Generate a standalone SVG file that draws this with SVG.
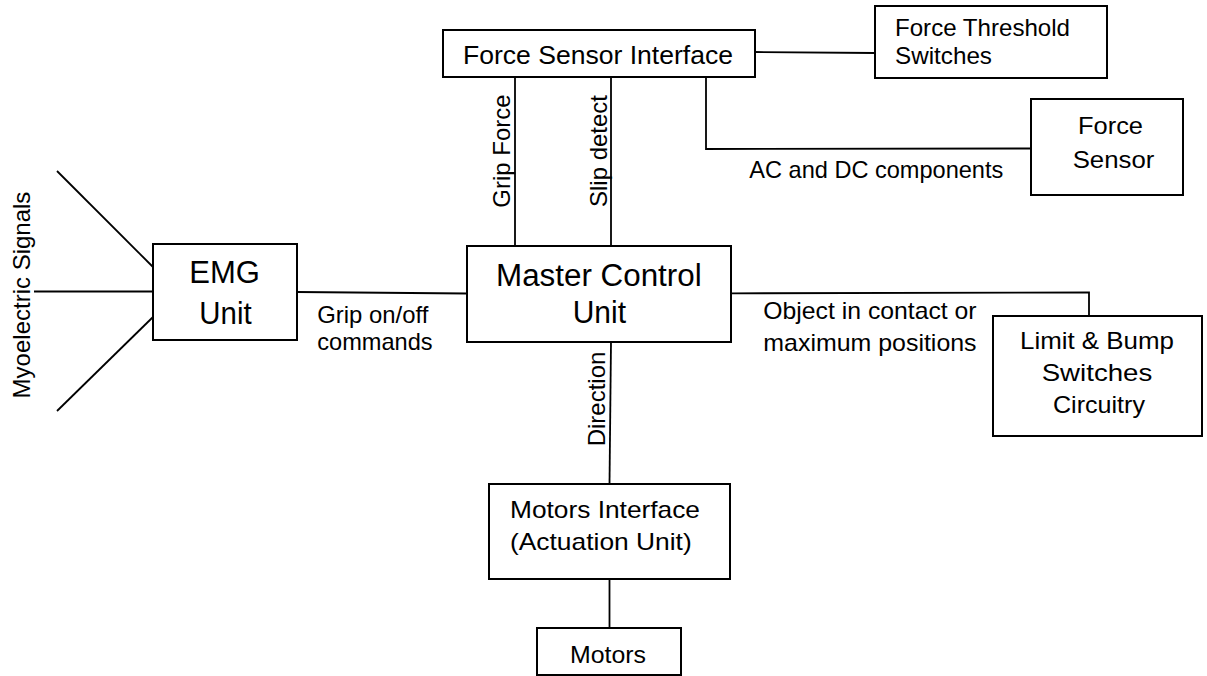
<svg xmlns="http://www.w3.org/2000/svg" width="1207" height="676" viewBox="0 0 1207 676">
  <style>
    .box { fill: #ffffff; stroke: #000000; stroke-width: 2; }
    .wire { fill: none; stroke: #000000; stroke-width: 1.8; }
    text { font-family: "Liberation Sans", Arial, sans-serif; fill: #000000; }
    .sm { font-size: 24px; }
    .md { font-size: 26.5px; }
    .lg { font-size: 31px; }
    .rot { font-size: 24px; text-anchor: middle; }
  </style>
  <rect width="1207" height="676" fill="#ffffff"/>

  <!-- connectors -->
  <g id="connectors">
    <line class="wire" x1="755" y1="52" x2="875" y2="53"/>
    <polyline class="wire" points="706,77 706,149 1031,148.5"/>
    <line class="wire" x1="515" y1="77" x2="515" y2="246"/>
    <line class="wire" x1="611" y1="77" x2="611" y2="246"/>
    <line class="wire" x1="57" y1="171" x2="153" y2="267"/>
    <line class="wire" x1="34" y1="291.5" x2="153" y2="291.5"/>
    <line class="wire" x1="57" y1="411" x2="153" y2="317"/>
    <line class="wire" x1="297" y1="292" x2="467" y2="293.5"/>
    <polyline class="wire" points="731,293.3 1089,292.5 1089,316"/>
    <line class="wire" x1="611" y1="342" x2="609.5" y2="484"/>
    <line class="wire" x1="609.5" y1="579" x2="609.5" y2="628"/>

    <!-- connector labels -->
    <text class="sm" x="749.3" y="178" textLength="254" lengthAdjust="spacingAndGlyphs">AC and DC components</text>
    <text class="sm" x="317.3" y="323" textLength="111" lengthAdjust="spacingAndGlyphs">Grip on/off</text>
    <text class="sm" x="317.3" y="349.5" textLength="115.3" lengthAdjust="spacingAndGlyphs">commands</text>
    <text class="sm" x="763.3" y="319" textLength="213.3" lengthAdjust="spacingAndGlyphs">Object in contact or</text>
    <text class="sm" x="763.3" y="351" textLength="213.3" lengthAdjust="spacingAndGlyphs">maximum positions</text>
    <text class="rot" transform="translate(30,295) rotate(-90)">Myoelectric Signals</text>
    <text class="rot" transform="translate(509.5,151) rotate(-90)">Grip Force</text>
    <text class="rot" transform="translate(606.5,151) rotate(-90)">Slip detect</text>
    <text class="rot" transform="translate(605,399) rotate(-90)">Direction</text>
  </g>

  <!-- nodes -->
  <g id="force-sensor-interface">
    <rect class="box" x="443" y="30" width="312" height="47"/>
    <text class="md" x="463" y="63.5" textLength="270" lengthAdjust="spacingAndGlyphs">Force Sensor Interface</text>
  </g>
  <g id="force-threshold-switches">
    <rect class="box" x="875" y="6" width="232" height="72"/>
    <text class="sm" x="895" y="36" textLength="175" lengthAdjust="spacingAndGlyphs">Force Threshold</text>
    <text class="sm" x="895" y="63.5" textLength="97" lengthAdjust="spacingAndGlyphs">Switches</text>
  </g>
  <g id="force-sensor">
    <rect class="box" x="1031" y="99" width="152" height="96"/>
    <text class="sm" x="1078" y="134" textLength="65" lengthAdjust="spacingAndGlyphs">Force</text>
    <text class="sm" x="1072.7" y="168" textLength="81.6" lengthAdjust="spacingAndGlyphs">Sensor</text>
  </g>
  <g id="emg-unit">
    <rect class="box" x="153" y="244" width="144" height="96"/>
    <text class="lg" x="189.3" y="283" textLength="70.7" lengthAdjust="spacingAndGlyphs">EMG</text>
    <text class="lg" x="199.3" y="323.5" textLength="52.3" lengthAdjust="spacingAndGlyphs">Unit</text>
  </g>
  <g id="master-control-unit">
    <rect class="box" x="467" y="246" width="264" height="96"/>
    <text class="lg" x="496" y="285.5" textLength="205.7" lengthAdjust="spacingAndGlyphs">Master Control</text>
    <text class="lg" x="572.7" y="323" textLength="53.3" lengthAdjust="spacingAndGlyphs">Unit</text>
  </g>
  <g id="limit-bump-switches">
    <rect class="box" x="993" y="316" width="209" height="120"/>
    <text class="sm" x="1020" y="349" textLength="154" lengthAdjust="spacingAndGlyphs">Limit &amp; Bump</text>
    <text class="sm" x="1041.7" y="381" textLength="110.6" lengthAdjust="spacingAndGlyphs">Switches</text>
    <text class="sm" x="1053" y="412.5" textLength="92" lengthAdjust="spacingAndGlyphs">Circuitry</text>
  </g>
  <g id="motors-interface">
    <rect class="box" x="489" y="484" width="241" height="95"/>
    <text class="sm" x="510" y="517.5" textLength="190" lengthAdjust="spacingAndGlyphs">Motors Interface</text>
    <text class="sm" x="510" y="550" textLength="181.7" lengthAdjust="spacingAndGlyphs">(Actuation Unit)</text>
  </g>
  <g id="motors">
    <rect class="box" x="537" y="628" width="144" height="47"/>
    <text class="sm" x="570" y="662.5" textLength="76" lengthAdjust="spacingAndGlyphs">Motors</text>
  </g>
</svg>
